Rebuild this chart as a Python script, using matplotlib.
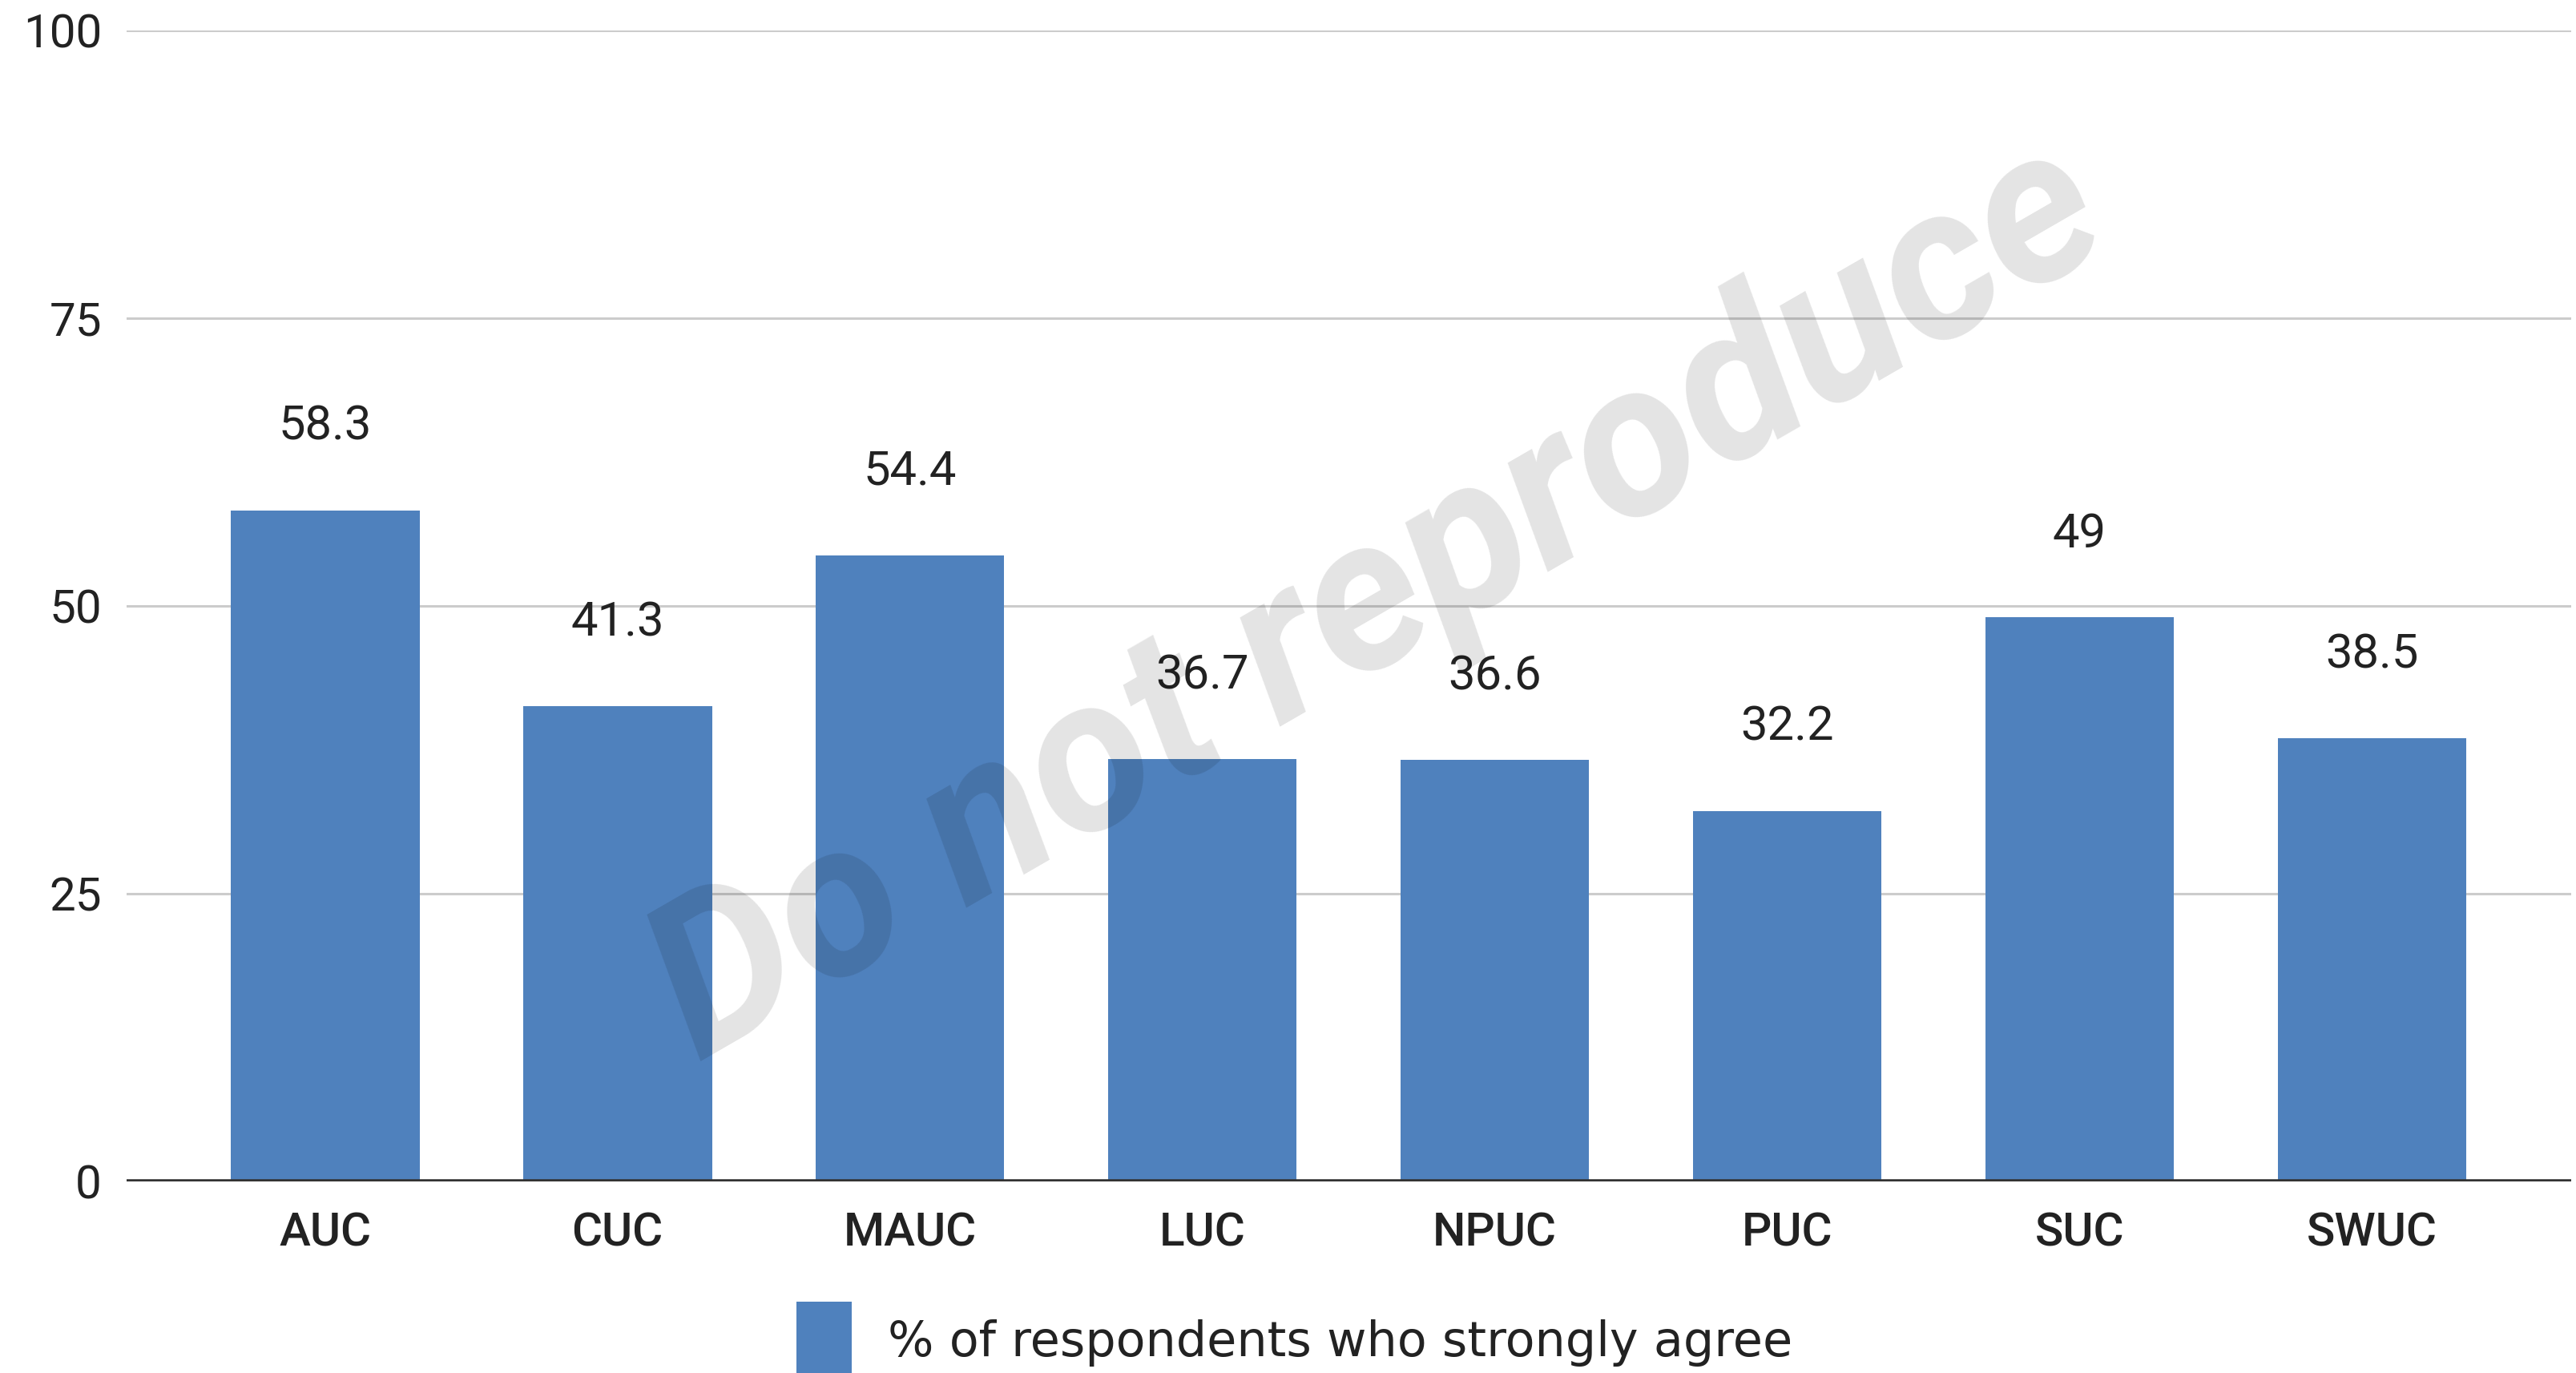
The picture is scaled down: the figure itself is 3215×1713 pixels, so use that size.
import matplotlib.pyplot as plt
from matplotlib.patches import Patch

# ==========================================
# DATA
# ==========================================
categories = ['AUC', 'CUC', 'MAUC', 'LUC', 'NPUC', 'PUC', 'SUC', 'SWUC']
values = [58.3, 41.3, 54.4, 36.7, 36.6, 32.2, 49, 38.5]
y_ticks = [0, 25, 50, 75, 100]
series_name = '% of respondents who strongly agree'

BAR_COLOR = '#4f81bd'
FONT = ['Roboto', 'DejaVu Sans']

plt.rcParams['font.family'] = FONT

fig = plt.figure(figsize=(32.15, 17.13), dpi=100)
ax = fig.add_axes([0.049, 0.1395, 0.949, 0.8385])

x = list(range(len(categories)))
ax.bar(x, values, width=0.646, color=BAR_COLOR, zorder=2)

# value labels above the bars
for xi, v in zip(x, values):
    ax.annotate(f"{v:g}", (xi, v), xytext=(0, 75), textcoords='offset points',
                ha='center', va='center', fontsize=43, color='#222222')

ax.set_xlim(-0.68, len(categories) - 1 + 0.68)
ax.set_ylim(0, 100)
ax.set_yticks(y_ticks)
ax.set_xticks(x)
ax.set_xticklabels(categories, fontsize=42, fontweight='medium', color='#222222')
ax.tick_params(axis='y', labelsize=42, colors='#222222', length=0, pad=22)
ax.tick_params(axis='x', length=0, pad=27)

# gridlines + baseline
for t in y_ticks[1:]:
    ax.axhline(t, color='#cccccc', linewidth=2.2, zorder=1)
ax.axhline(0, color='#333333', linewidth=4, zorder=3)

for s in ax.spines.values():
    s.set_visible(False)

# watermark
fig.text(0.535, 0.562, 'Do not reproduce', fontsize=195, fontweight='bold',
         fontstyle='italic', color='black', alpha=0.11, rotation=30,
         ha='center', va='center', zorder=10)

# legend at the bottom (partly cut off in the original)
handle = Patch(facecolor=BAR_COLOR, edgecolor='none')
fig.legend([handle], [series_name], loc='center', bbox_to_anchor=(0.5025, 0.0234),
           frameon=False, handlelength=1.15, handleheight=2.1,
           handletextpad=0.75, borderpad=0, labelcolor='#222222',
           prop={'family': 'DejaVu Sans', 'size': 43.5})

plt.savefig('out.png', dpi=100)
